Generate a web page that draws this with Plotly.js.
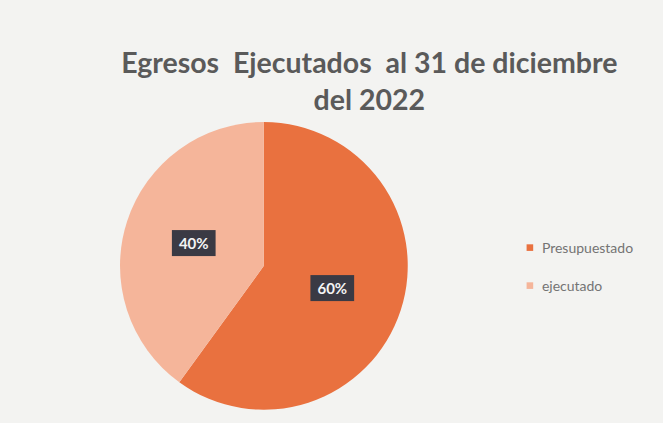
<!DOCTYPE html>
<html>
<head>
<meta charset="utf-8">
<script src="https://cdn.plot.ly/plotly-3.0.1.min.js"></script>
<style>html,body{margin:0;padding:0;background:#F3F3F1;}</style>
</head>
<body>
<div id="chart" style="width:663px;height:423px;"></div>
<script>
const labels = ["Presupuestado", "ejecutado"];
const values = [60, 40];
const colors = ["#E9713F", "#F5B59A"];

const data = [{
  type: "pie",
  labels: labels,
  values: values,
  marker: {colors: colors, line: {width: 0}},
  sort: false,
  direction: "clockwise",
  rotation: 0,
  textinfo: "percent",
  textposition: "inside",
  insidetextorientation: "horizontal",
  insidetextfont: {family: "Lato", size: 15, color: "#F4F4F4", weight: "bold"},
  domain: {x: [0.181, 0.615], y: [0.031, 0.712]},
  hoverinfo: "label+percent"
}];

const layout = {
  width: 663, height: 423,
  margin: {l: 0, r: 0, t: 0, b: 0},
  paper_bgcolor: "#F3F3F1",
  title: {
    text: "Egresos  Ejecutados  al 31 de diciembre<br>del 2022",
    font: {family: "Lato", size: 28.5, color: "#5A5A5A", weight: "bold"},
    x: 0.557, xanchor: "center",
    y: 0.828, yanchor: "middle"
  },
  showlegend: true,
  legend: {
    x: 0.757, xanchor: "left",
    y: 0.369, yanchor: "middle",
    font: {family: "Lato", size: 14, color: "#747474"},
    bgcolor: "rgba(0,0,0,0)"
  }
};

Plotly.newPlot("chart", data, layout, {displayModeBar: false}).then(function () {
  const ns = "http://www.w3.org/2000/svg";
  document.querySelectorAll("g.slicetext text").forEach(function (t) {
    const bb = t.getBBox();
    const r = document.createElementNS(ns, "rect");
    r.setAttribute("x", bb.x - 7);
    r.setAttribute("y", bb.y - 4);
    r.setAttribute("width", bb.width + 14);
    r.setAttribute("height", bb.height + 8);
    r.setAttribute("fill", "#3A3A44");
    const tr = t.getAttribute("transform");
    if (tr) r.setAttribute("transform", tr);
    t.parentNode.insertBefore(r, t);
  });
  document.querySelectorAll(".legend [clip-path]").forEach(function (el) {
    el.removeAttribute("clip-path");
  });
  const items = Array.from(document.querySelectorAll(".legend .traces"));
  const ys = items.map(function (g) {
    const m = (g.getAttribute("transform") || "").match(/translate\(([-\d.]+)[ ,]+([-\d.]+)\)/);
    return m ? [parseFloat(m[1]), parseFloat(m[2])] : [0, 0];
  });
  if (items.length === 2) {
    const mid = (ys[0][1] + ys[1][1]) / 2;
    items[0].setAttribute("transform", "translate(" + ys[0][0] + "," + (mid - 19) + ")");
    items[1].setAttribute("transform", "translate(" + ys[1][0] + "," + (mid + 19) + ")");
  }
  items.forEach(function (g) {
    g.querySelectorAll(".legendpoints path").forEach(function (p) {
      const pt = p.getAttribute("transform") || "";
      p.setAttribute("transform", pt + " translate(8,0) scale(0.55)");
    });
  });
});
</script>
</body>
</html>
